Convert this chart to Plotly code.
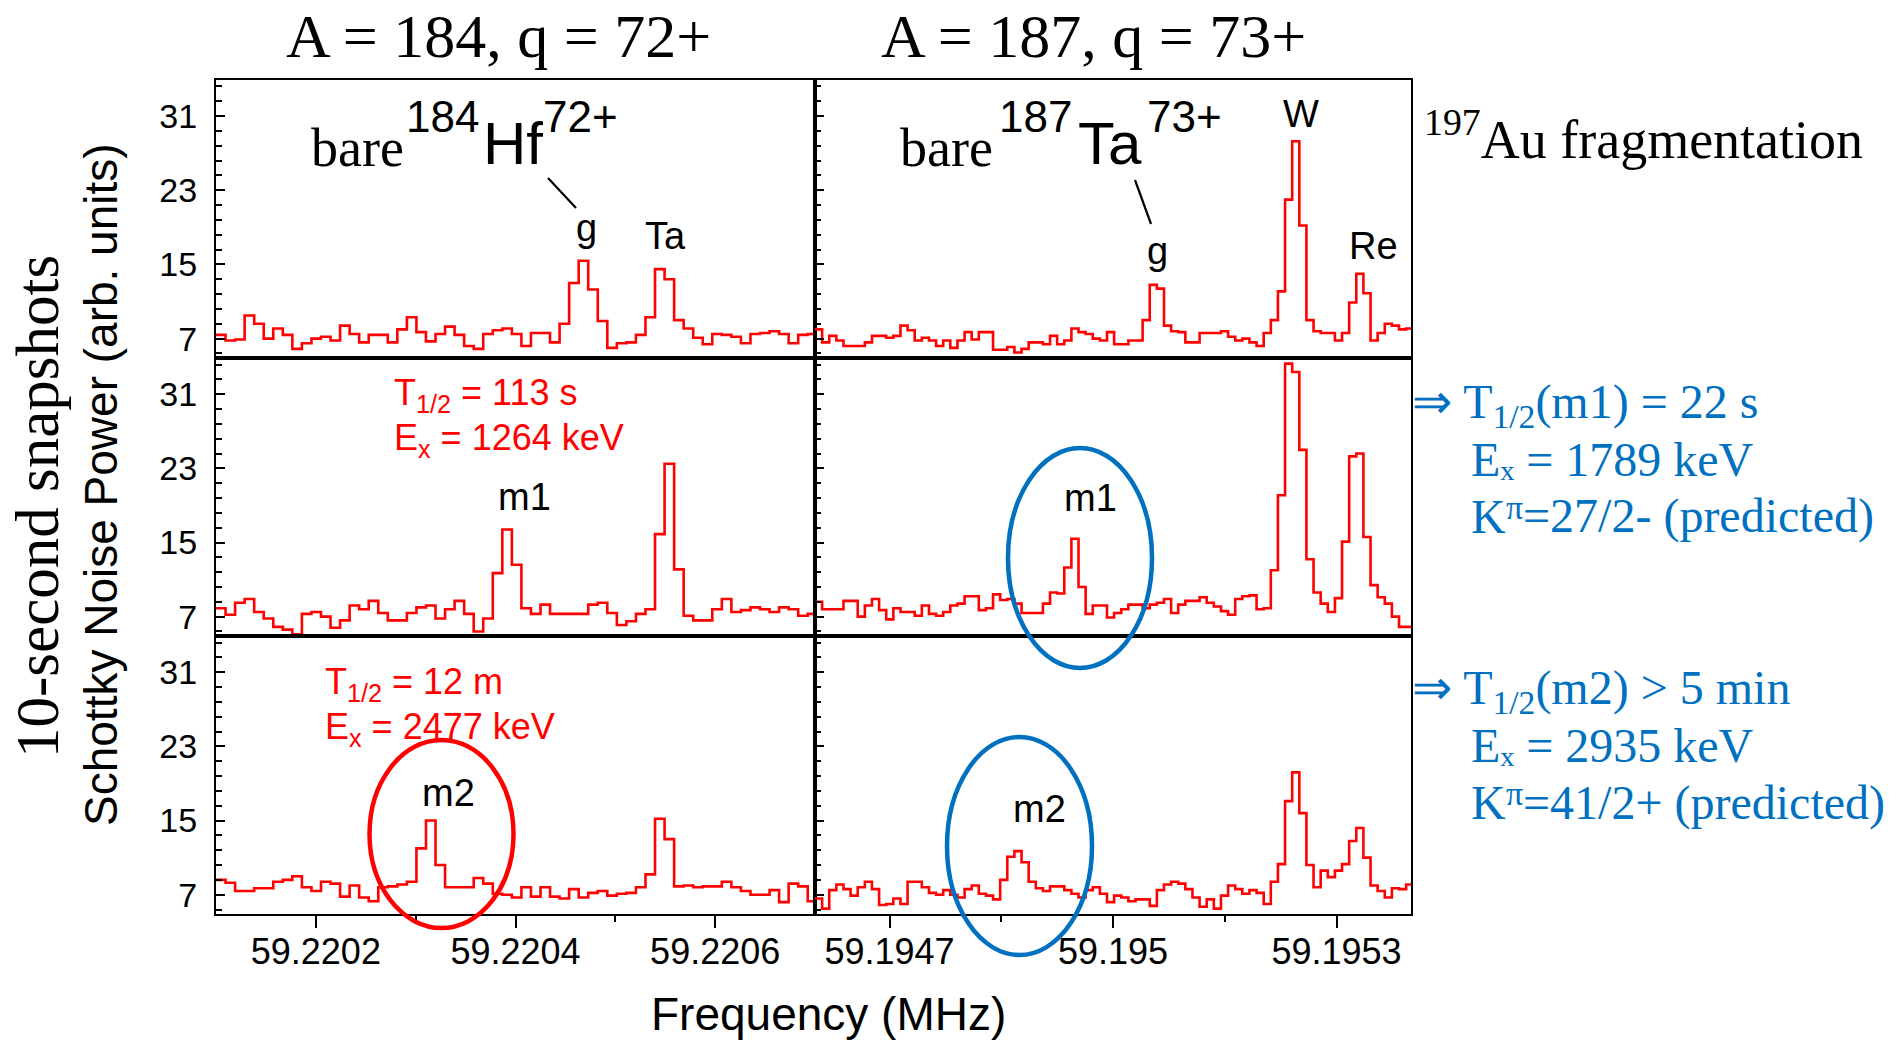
import numpy as np
import plotly.graph_objects as go
from plotly.subplots import make_subplots

# ---------------------------------------------------------------------------
# Schottky noise power spectra, three successive 10-second snapshots.
# Left column: A = 184, q = 72+ ; right column: A = 187, q = 73+.
# Each list holds one value per frequency bin (arb. units).
# ---------------------------------------------------------------------------
BIN_WIDTH = 9.56e-6          # MHz per frequency bin
A184_START = 59.2201         # MHz, first bin edge of the A = 184 window
A187_START = 59.1946         # MHz, first bin edge of the A = 187 window

a184_snap1 = [7.4, 6.8, 6.9, 9.5, 8.6, 7.0, 8.1, 7.4, 5.9, 6.5,
              7.0, 7.2, 6.8, 8.4, 7.5, 6.6, 7.4, 7.4, 6.6, 8.0,
              9.3, 7.7, 6.7, 7.5, 8.3, 7.4, 6.2, 5.9, 7.5, 7.9,
              8.1, 7.5, 6.2, 7.6, 7.6, 6.6, 8.6, 13.0, 15.4, 12.3,
              8.9, 6.0, 6.5, 6.6, 7.4, 9.3, 14.5, 13.4, 9.0, 8.1,
              7.1, 6.4, 7.5, 7.4, 7.2, 6.5, 7.5, 7.6, 7.8, 7.5,
              6.5, 7.4, 7.5]
a184_snap2 = [7.9, 7.2, 8.5, 8.9, 7.5, 6.8, 5.9, 5.6, 5.1, 7.3,
              7.5, 7.0, 5.8, 6.6, 8.2, 7.8, 8.7, 7.4, 6.6, 6.6,
              7.4, 8.0, 8.2, 6.8, 7.8, 8.7, 7.3, 5.4, 6.8, 11.7,
              16.4, 12.6, 7.9, 7.3, 8.3, 7.3, 7.3, 7.3, 7.3, 8.3,
              8.5, 7.4, 6.1, 6.5, 7.3, 7.8, 15.9, 23.5, 12.1, 7.1,
              6.6, 6.6, 7.8, 8.9, 7.5, 7.7, 8.0, 7.8, 7.5, 8.0,
              7.8, 7.1, 7.3]
a184_snap3 = [8.6, 8.3, 7.4, 7.4, 7.7, 7.7, 8.4, 8.6, 9.0, 7.8,
              7.4, 8.4, 8.2, 6.8, 8.0, 6.7, 6.3, 7.8, 7.9, 8.1,
              8.4, 12.0, 15.0, 10.2, 7.8, 7.8, 7.8, 8.8, 8.2, 7.1,
              7.0, 6.7, 7.8, 6.8, 7.8, 6.8, 6.6, 7.6, 6.7, 7.2,
              7.4, 6.9, 7.1, 7.2, 7.8, 9.2, 15.2, 13.0, 7.9, 8.0,
              7.8, 7.9, 7.9, 8.4, 7.8, 7.4, 7.0, 7.0, 7.5, 6.2,
              8.2, 7.9, 6.3]

a187_snap1 = [8.0, 6.6, 7.3, 6.8, 6.2, 6.2, 6.2, 6.6, 7.3, 7.3,
              7.1, 7.3, 8.4, 7.9, 6.8, 7.1, 6.8, 6.2, 6.8, 6.0,
              6.8, 7.7, 6.9, 7.7, 7.7, 5.8, 5.8, 6.1, 5.5, 5.9,
              6.6, 6.6, 6.4, 7.3, 6.4, 6.8, 8.1, 7.7, 7.5, 7.0,
              6.8, 7.7, 6.4, 6.4, 6.8, 6.8, 9.0, 12.8, 12.4, 8.4,
              7.8, 7.7, 6.6, 6.6, 7.6, 7.6, 7.6, 7.8, 7.2, 6.8,
              7.0, 6.6, 6.2, 7.6, 9.0, 12.1, 22.0, 28.3, 19.2, 9.0,
              7.8, 7.6, 7.6, 6.8, 7.6, 10.9, 14.0, 11.9, 6.8, 7.6,
              8.6, 8.4, 8.0, 8.1]
a187_snap2 = [8.6, 7.8, 7.8, 7.8, 8.7, 8.7, 7.0, 8.2, 8.9, 7.7,
              6.7, 7.9, 7.5, 7.5, 7.1, 8.2, 7.3, 7.1, 7.5, 8.2,
              8.4, 9.2, 9.2, 7.7, 7.9, 9.4, 8.8, 8.9, 8.4, 7.4,
              7.4, 7.4, 8.4, 9.6, 9.5, 12.3, 15.4, 10.2, 7.3, 8.2,
              8.2, 6.9, 7.4, 7.8, 8.3, 8.3, 7.9, 8.3, 8.5, 8.9,
              7.4, 8.3, 8.7, 8.7, 9.1, 8.5, 8.1, 7.6, 7.2, 8.9,
              9.2, 9.3, 7.8, 7.9, 12.0, 20.1, 34.3, 33.4, 25.0, 13.2,
              9.6, 8.4, 7.5, 9.0, 15.1, 24.3, 24.6, 15.6, 10.4, 9.1,
              8.4, 7.0, 5.9, 5.9]
a187_snap3 = [6.6, 5.5, 7.5, 8.1, 7.6, 6.9, 7.8, 8.4, 7.6, 5.9,
              6.0, 6.6, 6.0, 8.4, 8.4, 7.8, 7.2, 7.0, 7.5, 7.0,
              6.7, 7.6, 8.0, 7.1, 6.9, 6.5, 8.6, 11.1, 11.7, 10.5,
              8.4, 7.7, 7.4, 7.9, 7.9, 7.5, 7.1, 6.7, 7.5, 7.8,
              7.1, 6.2, 6.9, 6.7, 6.3, 6.5, 6.5, 5.8, 7.5, 8.1,
              8.4, 8.2, 7.6, 6.7, 5.7, 6.5, 5.5, 6.9, 8.0, 7.6,
              7.1, 7.5, 7.2, 6.0, 8.4, 10.3, 17.1, 20.2, 15.8, 10.2,
              7.8, 9.6, 8.9, 9.6, 10.3, 12.8, 14.2, 11.0, 8.0, 7.4,
              6.7, 7.7, 7.6, 8.1]

# Axis windows and tick labels
A184_RANGE = [59.2201, 59.2207]
A187_RANGE = [59.1946, 59.1954]
A184_TICKS = [59.2202, 59.2204, 59.2206]
A184_TICKTEXT = ["59.2202", "59.2204", "59.2206"]
A184_MINOR = [59.2203, 59.2205]
A187_TICKS = [59.1947, 59.1950, 59.1953]
A187_TICKTEXT = ["59.1947", "59.195", "59.1953"]
A187_MINOR = [59.19485, 59.19515]
POWER_RANGE = [4.9, 34.9]
POWER_TICKS = [7, 15, 23, 31]

# ---------------------------------------------------------------------------
W, H = 1901, 1042
SANS = "Liberation Sans, Arial, Helvetica, sans-serif"
SERIF = "Liberation Serif, Times New Roman, serif"
BLUE = "#0070C0"
RED = "#FF0000"


def fx(px):
    return px / W


def fy(py):
    return 1 - py / H


COL_PX = [(216, 815), (815, 1411)]
ROW_PX = [(80, 358.1), (358.1, 636.1), (636.1, 914.2)]

fig = make_subplots(rows=3, cols=2, horizontal_spacing=0, vertical_spacing=0)


def step_xy(start, values):
    edges = start + BIN_WIDTH * np.arange(len(values) + 1)
    return edges, list(values) + [values[-1]]


panels = [
    (1, 1, A184_START, a184_snap1), (1, 2, A187_START, a187_snap1),
    (2, 1, A184_START, a184_snap2), (2, 2, A187_START, a187_snap2),
    (3, 1, A184_START, a184_snap3), (3, 2, A187_START, a187_snap3),
]
for r, c, start, vals in panels:
    x, y = step_xy(start, vals)
    fig.add_trace(
        go.Scatter(x=x, y=y, mode="lines",
                   line=dict(color=RED, width=2.6, shape="hv"),
                   showlegend=False, hoverinfo="skip"),
        row=r, col=c)

for r in range(1, 4):
    for c in range(1, 3):
        idx = (r - 1) * 2 + c
        xa = "xaxis" if idx == 1 else f"xaxis{idx}"
        ya = "yaxis" if idx == 1 else f"yaxis{idx}"
        x0, x1 = COL_PX[c - 1]
        y0, y1 = ROW_PX[r - 1]
        bottom = r == 3
        xdict = dict(
            domain=[fx(x0), fx(x1)],
            range=A184_RANGE if c == 1 else A187_RANGE,
            showline=True, mirror=True, linecolor="black", linewidth=2,
            showgrid=False, zeroline=False,
            tickmode="array",
            tickvals=A184_TICKS if c == 1 else A187_TICKS,
            ticktext=A184_TICKTEXT if c == 1 else A187_TICKTEXT,
            ticks="outside" if bottom else "",
            ticklen=12, tickwidth=2.2, tickcolor="black",
            showticklabels=bottom,
            tickfont=dict(family=SANS, size=36, color="black"),
            ticklabelstandoff=-7,
        )
        if bottom:
            xdict["minor"] = dict(
                tickmode="array",
                tickvals=A184_MINOR if c == 1 else A187_MINOR,
                ticks="outside", ticklen=6, tickwidth=2, tickcolor="black")
        ydict = dict(
            domain=[fy(y1), fy(y0)],
            range=POWER_RANGE,
            showline=True, mirror=True, linecolor="black", linewidth=2,
            showgrid=False, zeroline=False,
            tickmode="array", tickvals=POWER_TICKS,
            ticks="inside", ticklen=9, tickwidth=2.4, tickcolor="black",
            showticklabels=(c == 1),
            tickfont=dict(family=SANS, size=34, color="black"),
            ticklabelstandoff=10,
            minor=dict(dtick=1.6, tick0=7, ticks="inside", ticklen=6,
                       tickwidth=2, tickcolor="black"),
        )
        fig.layout[xa].update(xdict)
        fig.layout[ya].update(ydict)

ann = []


def text(x, y, s, size, family=SANS, color="black", xanchor="center",
         yanchor="middle", angle=0):
    ann.append(dict(x=fx(x), y=fy(y), xref="paper", yref="paper", text=s,
                    showarrow=False, xanchor=xanchor, yanchor=yanchor,
                    textangle=angle,
                    font=dict(family=family, size=size, color=color)))


# column headers and axis titles
text(498, 35.5, "A = 184, q = 72+", 62, SERIF)
text(1093, 35.5, "A = 187, q = 73+", 62, SERIF)
text(828, 1014, "Frequency (MHz)", 46)
text(101, 485, "Schottky Noise Power (arb. units)", 46, angle=-90)
text(37, 507, "10-second snapshots", 61, SERIF, angle=-90)

# isotope labels in the first snapshot
text(309, 147.8, "bare", 54, SERIF, xanchor="left")
text(404, 116.3, "184", 44, xanchor="left")
text(481, 143.7, "Hf", 60, xanchor="left")
text(541, 116.3, "72+", 44, xanchor="left")
text(898, 147.8, "bare", 54, SERIF, xanchor="left")
text(997, 116.3, "187", 44, xanchor="left")
text(1076, 143.7, "Ta", 60, xanchor="left")
text(1145, 116.3, "73+", 44, xanchor="left")

# peak labels
text(586, 228, "g", 38)
text(665.5, 236, "Ta", 38)
text(1157, 251.5, "g", 38)
text(1301, 114, "W", 38)
text(1373, 246, "Re", 38)
text(524.5, 497, "m1", 38)
text(1090, 498, "m1", 38)
text(448, 793, "m2", 38)
text(1039, 809, "m2", 38)

# isomer properties for A = 184
text(392, 395, "T<sub>1/2</sub> = 113 s", 36, color=RED, xanchor="left")
text(392, 440, "E<sub>x</sub> = 1264 keV", 36, color=RED, xanchor="left")
text(323, 683.5, "T<sub>1/2</sub> = 12 m", 36, color=RED, xanchor="left")
text(323, 728.5, "E<sub>x</sub> = 2477 keV", 36, color=RED, xanchor="left")

# production and isomer properties for A = 187
text(1422, 136, "<sup>197</sup>Au fragmentation", 54, SERIF, xanchor="left")


def k_line(baseline, rest):
    # "K" with a raised pi, then the spin/parity assignment
    text(1469, baseline - 16.2, "K", 48, SERIF, BLUE, xanchor="left")
    text(1503.5, baseline - 13.5 - 11.5, "\u03c0", 34, SERIF, BLUE, xanchor="left")
    text(1521, baseline - 16.2, rest, 48, SERIF, BLUE, xanchor="left")


text(1410, 405.3, "\u21d2 T<sub>1/2</sub>(m1) = 22 s", 48, SERIF, BLUE, xanchor="left")
text(1469, 459.3, "E\u2093 = 1789 keV", 48, SERIF, BLUE, xanchor="left")
k_line(532.7, "=27/2- (predicted)")
text(1410, 691.3, "\u21d2 T<sub>1/2</sub>(m2) &gt; 5 min", 48, SERIF, BLUE, xanchor="left")
text(1469, 745.4, "E\u2093 = 2935 keV", 48, SERIF, BLUE, xanchor="left")
k_line(818.8, "=41/2+ (predicted)")

shapes = []


def seg(xa, ya, xb, yb):
    shapes.append(dict(type="line", xref="paper", yref="paper",
                       x0=fx(xa), y0=fy(ya), x1=fx(xb), y1=fy(yb),
                       line=dict(color="black", width=2.2)))


def ellipse(cx, cy, rx, ry, color):
    shapes.append(dict(type="circle", xref="paper", yref="paper",
                       x0=fx(cx - rx), x1=fx(cx + rx),
                       y0=fy(cy + ry), y1=fy(cy - ry),
                       line=dict(color=color, width=4.5)))


seg(548, 178, 576, 208)
seg(1135, 180, 1151, 224)
ellipse(441.5, 834, 72, 94, RED)
ellipse(1080, 558, 72, 110, BLUE)
ellipse(1019.5, 846, 72.5, 109, BLUE)

fig.update_layout(
    width=W, height=H, autosize=False,
    margin=dict(l=0, r=0, t=0, b=0),
    paper_bgcolor="white", plot_bgcolor="white",
    annotations=ann, shapes=shapes,
    showlegend=False,
)

fig.write_html("out.html")
